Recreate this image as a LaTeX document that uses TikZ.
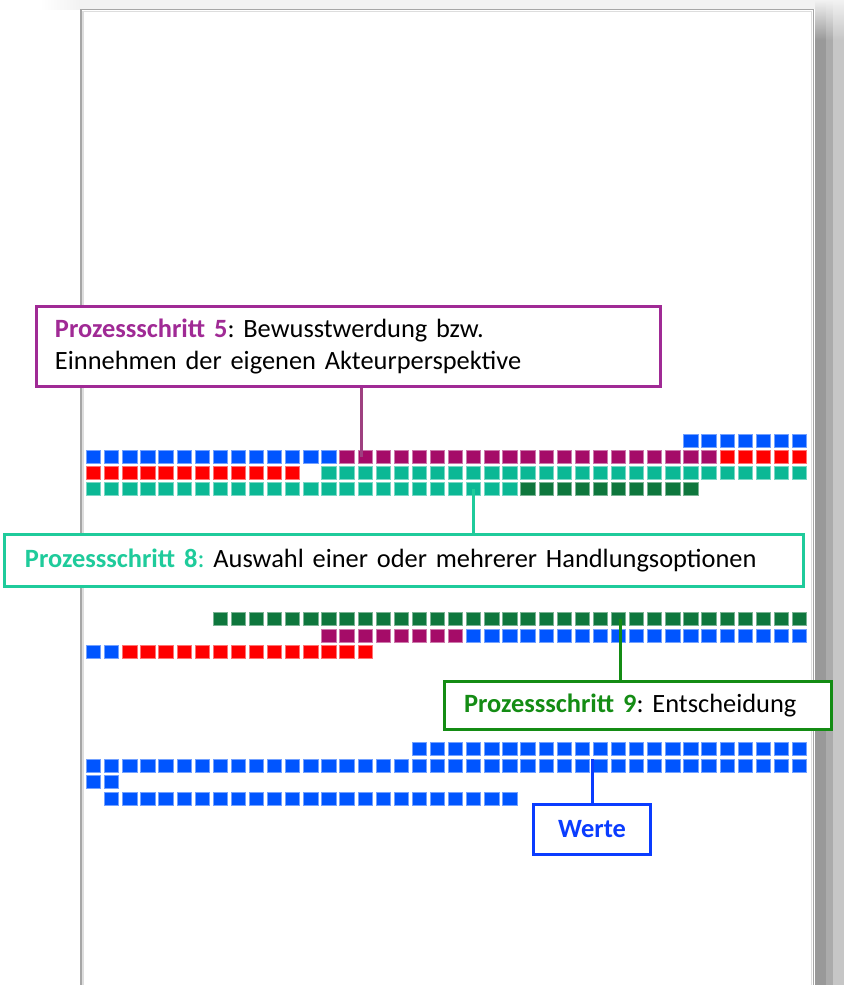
\documentclass[tikz,border=0pt]{standalone}
\usepackage{fontspec}
\setmainfont{Carlito}
\usepackage{tikz}
\usetikzlibrary{positioning}

\definecolor{sqblue}{HTML}{0055FF}
\definecolor{sqred}{HTML}{FF0000}
\definecolor{sqpurple}{HTML}{A50C68}
\definecolor{sqteal}{HTML}{0BB895}
\definecolor{sqgreen}{HTML}{0E773D}
\definecolor{stepfive}{HTML}{A02A95}
\definecolor{stepfiveline}{HTML}{9E4080}
\definecolor{stepeight}{HTML}{1FCB9B}
\definecolor{stepnine}{HTML}{148C14}
\definecolor{werteblue}{HTML}{0A3CFF}
\definecolor{pagegray}{HTML}{F2F2F2}
\definecolor{pageline}{HTML}{A6A6A6}
\definecolor{pageinner}{HTML}{DDDDDD}
\definecolor{shadowa}{HTML}{999999}
\definecolor{shadowb}{HTML}{ABABAB}
\definecolor{shadowc}{HTML}{C6C6C6}

% one row of coloured squares: name, y, first column, last column, colour
\newcommand\squarerow[5]{%
  \foreach \c in {#3,...,#4}
    \node[sq=#5] (#1c\c) at ({93.5+18.1*\c}, #2) {};
}

\begin{document}
\begin{tikzpicture}[x=1bp, y=-1bp,
  sq/.style={draw=#1!55!white, fill=#1, line width=0.7bp,
    minimum width=14.3bp, minimum height=13.3bp, inner sep=0pt},
  callout/.style={draw=#1, line width=3bp, fill=white, inner ysep=0pt,
    font=\fontsize{26.5}{33}\selectfont\frenchspacing},
  link/.style={draw=#1, line width=3bp},
]
  \useasboundingbox (0,0) rectangle (844,985);

  % sheet and its shadow
  \fill[white] (0,0) rectangle (844,985);
  \fill[pagegray] (80,0) rectangle (815,9);
  \shade[left color=white, right color=pagegray] (40,0) rectangle (80,9);
  \fill[shadowa] (815,40) rectangle (826,985);
  \fill[shadowb] (826,40) rectangle (833,985);
  \fill[shadowc] (833,40) rectangle (844,985);
  \shade[top color=pagegray, bottom color=shadowa] (815,0) rectangle (826,40);
  \shade[top color=pagegray, bottom color=shadowb] (826,0) rectangle (833,40);
  \shade[top color=pagegray, bottom color=shadowc] (833,0) rectangle (844,40);
  \draw[pageline, line width=1.5bp, fill=white] (81,9.5) rectangle (813.5,995);
  \draw[pageinner, line width=1.5bp] (83,11.5) rectangle (811.5,995);

  % first block
  \squarerow{ga}{441}{33}{39}{sqblue}
  \squarerow{gb}{457}{0}{13}{sqblue}
  \squarerow{gb}{457}{14}{34}{sqpurple}
  \squarerow{gb}{457}{35}{39}{sqred}
  \squarerow{gc}{473}{0}{11}{sqred}
  \squarerow{gc}{473}{13}{39}{sqteal}
  \squarerow{gd}{489}{0}{23}{sqteal}
  \squarerow{gd}{489}{24}{33}{sqgreen}

  % second block
  \squarerow{ha}{619}{7}{39}{sqgreen}
  \squarerow{hb}{635.5}{13}{20}{sqpurple}
  \squarerow{hb}{635.5}{21}{39}{sqblue}
  \squarerow{hc}{652}{0}{1}{sqblue}
  \squarerow{hc}{652}{2}{15}{sqred}

  % third block
  \squarerow{ka}{749}{18}{39}{sqblue}
  \squarerow{kb}{765.5}{0}{39}{sqblue}
  \squarerow{kc}{782}{0}{1}{sqblue}
  \squarerow{kd}{798.5}{1}{23}{sqblue}

  % callouts
  \node[callout=stepfive, minimum width=624bp, minimum height=80bp,
    text width=587bp, inner xsep=18.5bp, align=left] (box5) at (348.5,346.5)
    {\textcolor{stepfive}{\bfseries Prozessschritt 5}: Bewusstwerdung bzw.\\
     Einnehmen der eigenen Akteurperspektive};
  \node[callout=stepeight, minimum width=799bp, minimum height=52bp,
    text width=758bp, inner xsep=20.5bp, align=left] (box8) at (404,560.5)
    {\textcolor{stepeight}{\bfseries Prozessschritt 8}\textcolor{stepeight}{:}
     Auswahl einer oder mehrerer Handlungsoptionen};
  \node[callout=stepnine, minimum width=387bp, minimum height=48bp,
    text width=348bp, inner xsep=19.5bp, align=left] (box9) at (638,705.5)
    {\textcolor{stepnine}{\bfseries Prozessschritt 9}: Entscheidung};
  \node[callout=werteblue, minimum width=117bp, minimum height=50bp,
    text=werteblue, font=\fontsize{26.5}{33}\selectfont\bfseries] (werte) at (592,829.5)
    {Werte};

  % connectors
  \coordinate (p5) at ([xshift=-4bp]gbc15.center);
  \coordinate (p9) at ([xshift=2bp]hac29.center);
  \draw[link=stepfiveline] (p5) -- (p5 |- box5.south);
  \draw[link=stepeight] (gdc21.center) -- (gdc21.center |- box8.north);
  \draw[link=stepnine] (p9) -- (p9 |- box9.north);
  \draw[link=werteblue] (werte.north) -- (werte.north |- kbc28.north);
\end{tikzpicture}
\end{document}
